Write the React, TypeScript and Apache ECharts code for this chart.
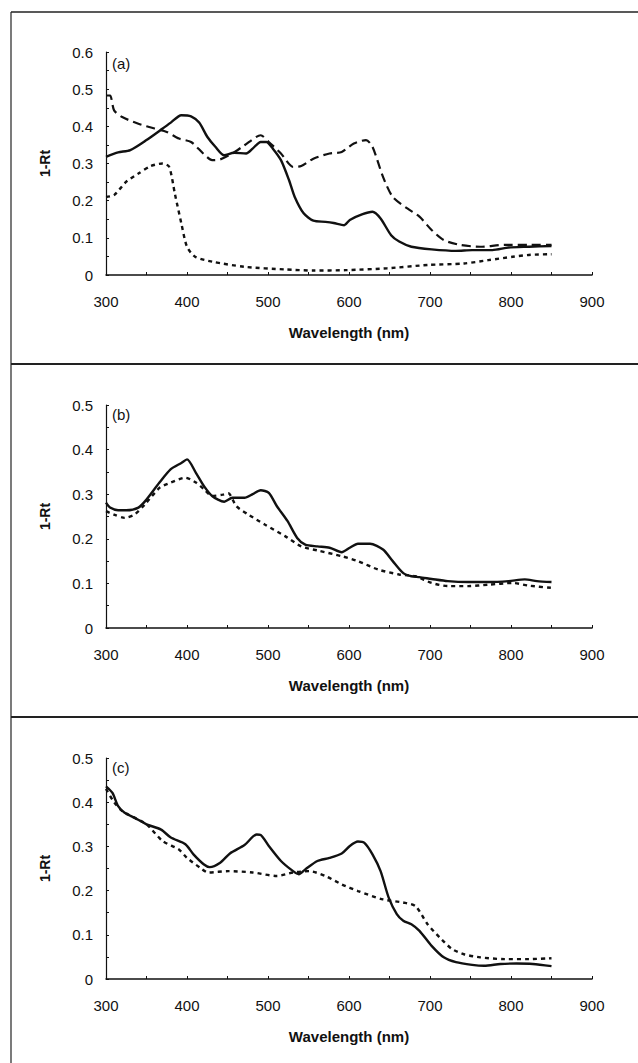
import React, { useEffect, useRef } from "react";
import * as echarts from "echarts";

// Panel (a)
const aSolid: [number, number][] = [
  [300, 0.318], [315, 0.33], [330, 0.336], [350, 0.363], [370, 0.394], [380, 0.41], [393, 0.43],
  [405, 0.427], [415, 0.41], [425, 0.372], [435, 0.345], [446, 0.322], [458, 0.329], [473, 0.327],
  [481, 0.34], [491, 0.358], [498, 0.358], [506, 0.34], [516, 0.309], [526, 0.255], [533, 0.21],
  [544, 0.166], [556, 0.146], [571, 0.143], [581, 0.14], [594, 0.134], [601, 0.148], [616, 0.163],
  [629, 0.17], [639, 0.152], [652, 0.107], [662, 0.09], [677, 0.076], [702, 0.069], [732, 0.065],
  [752, 0.067], [777, 0.067], [797, 0.074], [822, 0.076], [850, 0.078],
];
const aLongDash: [number, number][] = [
  [300, 0.483], [305, 0.483], [310, 0.443], [320, 0.425], [340, 0.407], [360, 0.394], [375, 0.385],
  [390, 0.367], [405, 0.358], [420, 0.327], [431, 0.309], [441, 0.311], [456, 0.327], [471, 0.349],
  [491, 0.376], [501, 0.358], [516, 0.327], [531, 0.291], [541, 0.293], [556, 0.313], [576, 0.327],
  [591, 0.331], [606, 0.354], [621, 0.363], [629, 0.345], [642, 0.264], [654, 0.21], [672, 0.179],
  [687, 0.157], [702, 0.121], [717, 0.094], [737, 0.081], [762, 0.076], [792, 0.081], [822, 0.081],
  [850, 0.081],
];
const aShortDash: [number, number][] = [
  [300, 0.21], [310, 0.215], [325, 0.251], [340, 0.273], [355, 0.293], [370, 0.3], [378, 0.291],
  [385, 0.219], [393, 0.139], [400, 0.076], [410, 0.049], [431, 0.036], [471, 0.022], [521, 0.015],
  [556, 0.012], [596, 0.013], [647, 0.018], [697, 0.027], [742, 0.031], [772, 0.04], [802, 0.049],
  [822, 0.054], [850, 0.056],
];

// Panel (b)
const bSolid: [number, number][] = [
  [300, 0.281], [305, 0.27], [315, 0.264], [325, 0.264], [340, 0.27], [350, 0.288], [366, 0.326],
  [380, 0.356], [393, 0.37], [400, 0.378], [411, 0.348], [421, 0.318], [431, 0.296], [446, 0.283],
  [456, 0.292], [471, 0.292], [481, 0.3], [491, 0.309], [501, 0.303], [511, 0.273], [524, 0.24],
  [536, 0.202], [546, 0.187], [561, 0.183], [576, 0.18], [591, 0.17], [601, 0.18], [611, 0.189],
  [626, 0.189], [642, 0.176], [654, 0.15], [667, 0.123], [677, 0.116], [687, 0.114], [702, 0.11],
  [722, 0.105], [747, 0.103], [772, 0.103], [797, 0.105], [817, 0.109], [832, 0.105], [850, 0.103],
];
const bDash: [number, number][] = [
  [300, 0.262], [310, 0.254], [323, 0.247], [335, 0.254], [348, 0.277], [366, 0.314], [380, 0.326],
  [398, 0.337], [411, 0.326], [421, 0.311], [431, 0.296], [444, 0.299], [451, 0.302], [461, 0.273],
  [476, 0.254], [496, 0.232], [521, 0.206], [541, 0.183], [561, 0.174], [591, 0.161], [611, 0.15],
  [636, 0.131], [662, 0.12], [682, 0.116], [702, 0.101], [722, 0.094], [747, 0.094], [772, 0.097],
  [802, 0.101], [822, 0.095], [850, 0.09],
];

// Panel (c)
const cSolid: [number, number][] = [
  [300, 0.436], [308, 0.421], [315, 0.391], [323, 0.376], [335, 0.365], [350, 0.35], [368, 0.338],
  [380, 0.32], [398, 0.305], [408, 0.282], [421, 0.259], [428, 0.253], [441, 0.263], [453, 0.284],
  [471, 0.303], [486, 0.327], [491, 0.326], [501, 0.301], [516, 0.267], [531, 0.244], [538, 0.237],
  [546, 0.248], [561, 0.267], [576, 0.274], [591, 0.284], [601, 0.301], [611, 0.311], [619, 0.308],
  [629, 0.282], [639, 0.244], [649, 0.184], [659, 0.147], [667, 0.132], [677, 0.124], [687, 0.109],
  [702, 0.075], [717, 0.049], [732, 0.038], [752, 0.032], [767, 0.03], [787, 0.034], [807, 0.035],
  [827, 0.034], [850, 0.029],
];
const cDash: [number, number][] = [
  [300, 0.43], [310, 0.4], [320, 0.38], [335, 0.365], [350, 0.35], [370, 0.312], [390, 0.293],
  [400, 0.274], [416, 0.252], [426, 0.241], [451, 0.244], [481, 0.241], [511, 0.233], [531, 0.241],
  [551, 0.244], [571, 0.233], [591, 0.214], [611, 0.199], [642, 0.18], [667, 0.173], [682, 0.165],
  [697, 0.124], [712, 0.094], [727, 0.068], [742, 0.056], [762, 0.049], [792, 0.045], [822, 0.045],
  [850, 0.047],
];

const panelLabels = ["(a)", "(b)", "(c)"];
const yMaxes = [0.6, 0.5, 0.5];
const xTitle = "Wavelength (nm)";
const yTitle = "1-Rt";

const INK = "#111";
const FONT = "'Liberation Sans', Arial, sans-serif";

export default function App() {
  const ref = useRef<HTMLDivElement>(null);
  useEffect(() => {
    if (!ref.current) return;
    const chart = echarts.init(ref.current, undefined, { renderer: "svg" });
    const tops = [52, 405, 758];
    const heights = [223, 223, 221];
    const grids = tops.map((t, i) => ({ left: 106, width: 486, top: t, height: heights[i] }));
    const xAxes = tops.map((_, i) => ({
      type: "value",
      gridIndex: i,
      min: 300,
      max: 900,
      interval: 100,
      splitLine: { show: false },
      axisLine: { lineStyle: { color: INK, width: 1.5 } },
      axisTick: { inside: true, length: 3, lineStyle: { color: INK } },
      minorTick: { show: true, splitNumber: 2, length: 3, lineStyle: { color: INK } },
      axisLabel: { color: INK, fontSize: 15, fontFamily: FONT, margin: 19 },
      name: xTitle,
      nameLocation: "middle",
      nameGap: 50,
      nameTextStyle: { color: INK, fontSize: 15, fontWeight: "bold", fontFamily: FONT },
    }));
    const yAxes = tops.map((_, i) => ({
      type: "value",
      gridIndex: i,
      min: 0,
      max: yMaxes[i],
      interval: 0.1,
      splitLine: { show: false },
      axisLine: { show: true, lineStyle: { color: INK, width: 1.2 } },
      axisTick: { inside: true, length: 3, lineStyle: { color: INK } },
      minorTick: { show: true, splitNumber: 2, length: 3, lineStyle: { color: INK } },
      axisLabel: { color: INK, fontSize: 15, fontFamily: FONT, margin: 13 },
      name: yTitle,
      nameLocation: "middle",
      nameGap: 54,
      nameRotate: 90,
      nameTextStyle: { color: INK, fontSize: 14, fontWeight: "bold", fontFamily: FONT },
    }));
    const mk = (data: [number, number][], idx: number, type: any, width: number) => ({
      type: "line",
      xAxisIndex: idx,
      yAxisIndex: idx,
      data,
      showSymbol: false,
      smooth: 0.25,
      lineStyle: { color: INK, width, type },
    });
    const series = [
      mk(aSolid, 0, "solid", 2.4),
      mk(aLongDash, 0, [9, 5], 2.2),
      mk(aShortDash, 0, [4, 4], 2.4),
      mk(bSolid, 1, "solid", 2.4),
      mk(bDash, 1, [4, 4], 2.4),
      mk(cSolid, 2, "solid", 2.4),
      mk(cDash, 2, [4, 4], 2.4),
    ];
    const labelY = [63, 414, 767];
    const graphic: any[] = [
      { type: "line", shape: { x1: 11, y1: 12, x2: 11, y2: 1063 }, style: { stroke: "#222", lineWidth: 1.2 } },
      { type: "line", shape: { x1: 11, y1: 12, x2: 638, y2: 12 }, style: { stroke: "#222", lineWidth: 1.5 } },
      { type: "line", shape: { x1: 11, y1: 364, x2: 638, y2: 364 }, style: { stroke: "#222", lineWidth: 2 } },
      { type: "line", shape: { x1: 11, y1: 717, x2: 638, y2: 717 }, style: { stroke: "#222", lineWidth: 2 } },
      ...panelLabels.map((t, i) => ({
        type: "text",
        x: 112,
        y: labelY[i],
        style: { text: t, fill: INK, fontSize: 15, fontFamily: FONT, verticalAlign: "middle" },
      })),
    ];
    chart.setOption({
      animation: false,
      backgroundColor: "#fff",
      grid: grids,
      xAxis: xAxes,
      yAxis: yAxes,
      series,
      graphic,
    });
    return () => chart.dispose();
  }, []);
  return (
    <div
      ref={ref}
      style={{ position: "absolute", left: 0, top: 0, width: 638, height: 1063, background: "#fff" }}
    />
  );
}
